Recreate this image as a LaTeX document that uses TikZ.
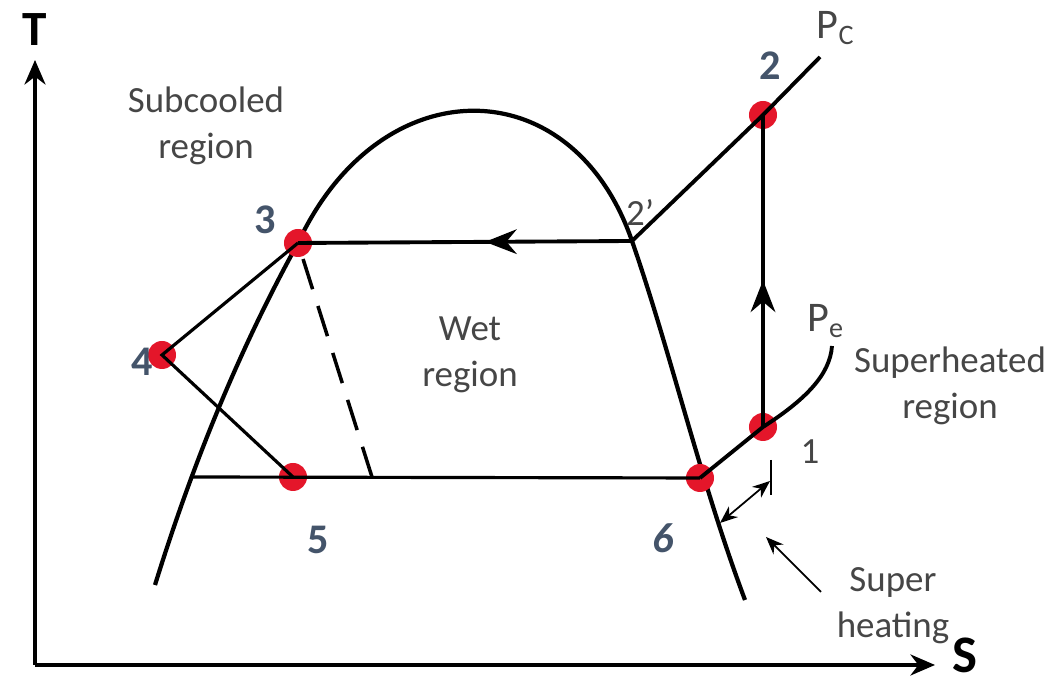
\documentclass[tikz,border=0pt]{standalone}
\usepackage{fontspec}
\setmainfont{Carlito}
\usetikzlibrary{positioning,arrows.meta,decorations.markings}
\definecolor{DotRed}{RGB}{228,22,42}
\definecolor{NumBlue}{RGB}{68,84,106}
\definecolor{TextGray}{RGB}{70,70,70}

\begin{document}
\begin{tikzpicture}[
  x=0.01cm, y=-0.01cm,
  state/.style={
    circle,
    fill=DotRed,
    minimum size=0.28cm,
    inner sep=0pt,
  },
  num/.style={font=\fontsize{12}{14}\selectfont\bfseries, text=NumBlue},
  region/.style={font=\fontsize{10.5}{13}\selectfont, text=TextGray, align=center},
  axislabel/.style={font=\fontsize{14}{16}\selectfont\bfseries, inner sep=0pt},
  curve/.style={line width=1.2pt},
  proc/.style={line width=1.1pt},
  thin/.style={line width=0.5pt, -{Stealth[length=5pt,width=4pt]}},
  midarrow/.style={postaction={decorate}, decoration={markings,
    mark=at position #1 with {\arrow{Stealth[length=9pt,width=7pt]}}}},
]
  \useasboundingbox (0,0) rectangle (1053,683);

  % axes
  \coordinate (o) at (35,665);
  \coordinate (tend) at (35,60);
  \coordinate (send) at (935,665);
  \draw[line width=0.9pt, -{Stealth[length=7pt,width=6pt]}] (o) -- (tend);
  \draw[line width=0.9pt, -{Stealth[length=7pt,width=6pt]}] (o) -- (send);
  \node[axislabel] (tlab) at (35,30) {T};
  \node[axislabel, font=\fontsize{15}{16}\selectfont\bfseries] (slab) at (965,655) {S};

  % saturation dome
  \coordinate (j2) at (632,241);
  \draw[curve] (155,585) .. controls (200,440) and (250,330) .. (298,243)
    .. controls (380,67) and (572,67) .. (j2)
    .. controls (670,350) and (700,480) .. (745,600);

  % states
  \node[state] (p1) at (763,427) {};
  \node[state] (p2) at (763,115) {};
  \node[state] (p3) at (298,243) {};
  \node[state] (p4) at (162,355) {};
  \node[state] (p5) at (293,477) {};
  \node[state] (p6) at (700,478) {};
  \coordinate (c5) at (190,477);
  \coordinate (pc) at (820,57);
  \coordinate (pe) at (832,346);
  \coordinate (qx) at (372,477);

  % cycle
  \draw[proc, midarrow=0.47] (p1.center) -- (p2.center);
  \draw[proc] (j2) -- (p2.center) -- (pc);
  \draw[proc, midarrow=0.44] (j2) -- (p3.center);
  \draw[line width=0.9pt] (p3.center) -- (p4.center) -- (p5.center);
  \draw[line width=0.9pt] (c5) -- (p6.center);
  \draw[proc] (p6.center) -- (p1.center) .. controls (805,400) and (830,375) .. (pe);
  \draw[line width=1pt, dash pattern=on 9pt off 5pt] (qx) -- (p3.center);

  % superheating mark
  \coordinate (tk1) at (771,460);
  \coordinate (tk2) at (771,495);
  \coordinate (sa) at (720,523);
  \coordinate (sb) at (770,481);
  \coordinate (pt) at (766,537);
  \coordinate (pf) at (821,592);
  \draw[line width=0.7pt] (tk1) -- (tk2);
  \draw[line width=0.5pt, {Stealth[length=5pt,width=4pt]}-{Stealth[length=5pt,width=4pt]}] (sa) -- (sb);
  \draw[thin] (pf) -- (pt);

  % labels
  \node[num] at (770,66) {2};
  \node[num] at (265,220) {3};
  \node[num] at (142,362) {4};
  \node[num] at (318,540) {5};
  \node[num, font=\fontsize{12}{14}\selectfont\bfseries\itshape] at (663,538) {6};
  \node[region] at (810,452) {1};
  \node[region] at (640,212) {2'};
  \node[region, font=\fontsize{12}{14}\selectfont] at (836,28) {P\textsubscript{C}};
  \node[region, font=\fontsize{12}{14}\selectfont] at (826,321) {P\textsubscript{e}};
  \node[region] (subc) at (206,126) {Subcooled\\region};
  \node[region] (wet) at (470,355) {Wet\\region};
  \node[region] (suph) at (950,386) {Superheated\\region};
  \node[region] (shl) at (893,606) {Super\\heating};
\end{tikzpicture}
\end{document}
